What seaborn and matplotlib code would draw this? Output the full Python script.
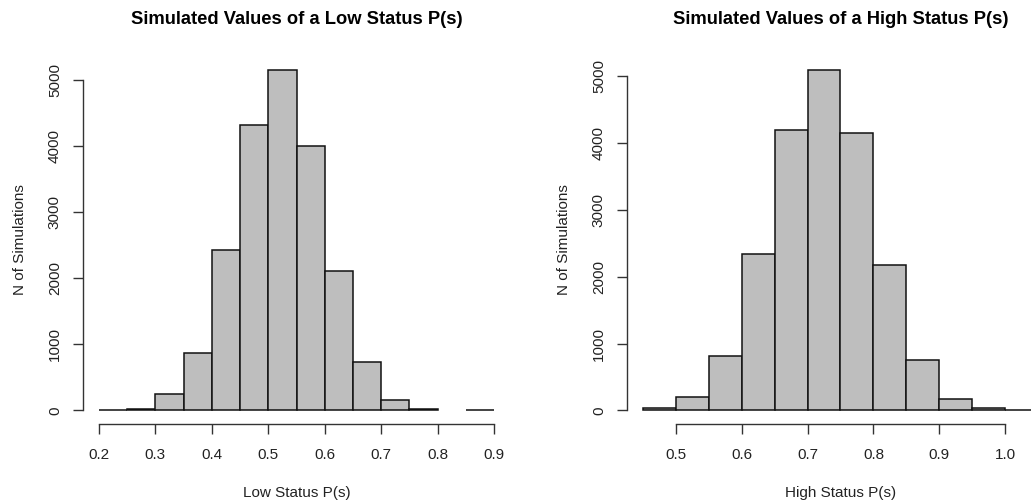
import numpy as np
import pandas as pd
import matplotlib
matplotlib.use("Agg")
import matplotlib.pyplot as plt
import seaborn as sns

# ---- data ----
low_edges = [0.20, 0.25, 0.30, 0.35, 0.40, 0.45, 0.50, 0.55, 0.60, 0.65, 0.70, 0.75, 0.80, 0.85, 0.90]
low_counts = [8, 25, 245, 868, 2425, 4320, 5150, 3990, 2100, 735, 155, 25, 0, 10]

high_edges = [0.45, 0.50, 0.55, 0.60, 0.65, 0.70, 0.75, 0.80, 0.85, 0.90, 0.95, 1.00, 1.05]
high_counts = [35, 200, 820, 2340, 4200, 5100, 4150, 2170, 750, 170, 30, 10]

low_xticks = [0.2, 0.3, 0.4, 0.5, 0.6, 0.7, 0.8, 0.9]
high_xticks = [0.5, 0.6, 0.7, 0.8, 0.9, 1.0]
yticks = [0, 1000, 2000, 3000, 4000, 5000]

titles = ["Simulated Values of a Low Status P(s)", "Simulated Values of a High Status P(s)"]
xlabels = ["Low Status P(s)", "High Status P(s)"]
ylabel = "N of Simulations"

sns.set_style("white")
plt.rcParams["font.family"] = ["Liberation Sans", "DejaVu Sans"]

W, H = 1031, 504
fig = plt.figure(figsize=(W / 100, H / 100), dpi=100)

def px_axes(x0, x1, ytop, ybot):
    return fig.add_axes([x0 / W, (H - ybot) / H, (x1 - x0) / W, (ybot - ytop) / H])

ax1 = px_axes(83, 510, 56, 424)
ax2 = px_axes(627, 1054, 56, 424)

textc = "#222222"
for ax, edges, counts, xt, title, xl in [
    (ax1, low_edges, low_counts, low_xticks, titles[0], xlabels[0]),
    (ax2, high_edges, high_counts, high_xticks, titles[1], xlabels[1]),
]:
    e = np.array(edges)
    df = pd.DataFrame({"x": (e[:-1] + e[1:]) / 2, "n": counts})
    sns.histplot(data=df, x="x", weights="n", bins=list(edges), ax=ax,
                 color="#BEBEBE", edgecolor="#111111", linewidth=1.1, alpha=1.0)
    for p in ax.patches:
        if p.get_height() == 0:
            p.set_linewidth(0)
    lo, hi = edges[0], edges[-1]
    span = hi - lo
    ax.set_xlim(lo - 0.04 * span, hi + 0.04 * span)
    m = max(counts)
    ax.set_ylim(-0.04 * m, 1.04 * m)
    ax.set_xticks(xt)
    ax.set_xticklabels([f"{v:.1f}" for v in xt])
    ax.set_yticks(yticks)
    ax.set_yticklabels([str(v) for v in yticks])
    for s in ["top", "right"]:
        ax.spines[s].set_visible(False)
    ax.spines["left"].set_bounds(0, 5000)
    ax.spines["bottom"].set_bounds(xt[0], xt[-1])
    for s in ["left", "bottom"]:
        ax.spines[s].set_color("#333333")
        ax.spines[s].set_linewidth(1.0)
    ax.tick_params(axis="both", bottom=True, left=True, direction="out",
                   length=7.2, width=1.0, color="#333333",
                   labelsize=11, labelcolor=textc)
    ax.tick_params(axis="x", pad=10)
    ax.tick_params(axis="y", labelrotation=90, pad=8)
    for lab in ax.get_yticklabels():
        lab.set_va("center")
    ax.set_xlabel(xl, fontsize=11, color=textc, va="center")
    ax.xaxis.set_label_coords(0.5, (424 - 493) / 368)
    ax.set_ylabel(ylabel, fontsize=11, color=textc, va="center")
    ax.yaxis.set_label_coords((20 - 83) / 427, 0.5)
    ax.set_title(title, fontsize=13.2, fontweight="bold", color="black",
                 y=(424 - 19) / 368, va="center", pad=0)
    ax.grid(False)

fig.savefig("out.png", dpi=100)
